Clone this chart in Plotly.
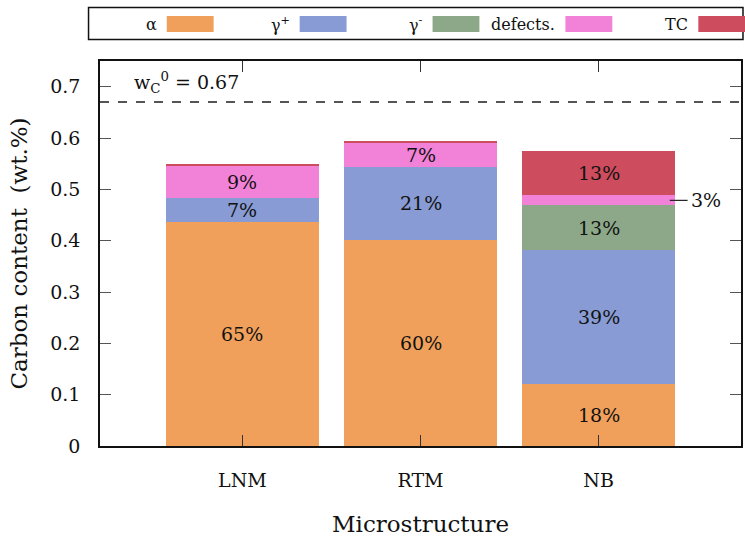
import numpy as np
import plotly.graph_objects as go

# Carbon partitioning per microstructure (wt.% C)
categories = ["LNM", "RTM", "NB"]
phases = ["α", "γ<sup>+</sup>", "γ<sup>-</sup>", "defects.", "TC"]
alpha = [0.437, 0.402, 0.121]
gamma_plus = [0.046, 0.142, 0.260]
gamma_minus = [0.0, 0.0, 0.088]
defects = [0.063, 0.047, 0.019]
tc = [0.002, 0.002, 0.086]
nominal_c = 0.67
colors = ["#F0A05A", "#889BD4", "#8CA888", "#F281D8", "#CD4C5E"]

series = [alpha, gamma_plus, gamma_minus, defects, tc]
FONT = "DejaVu Serif"

fig = go.Figure()
xpos = np.arange(len(categories))
for name, vals, col in zip(phases, series, colors):
    fig.add_trace(go.Bar(x=xpos, y=vals, name=name, marker=dict(color=col, line=dict(width=0)),
                         width=0.855, showlegend=False))

# Percentage labels (share of nominal carbon content)
vals_arr = np.array(series)
cum = np.cumsum(vals_arr, axis=0)
annotations = []
shapes = []
for j in range(len(categories)):
    for i in range(len(series)):
        v = vals_arr[i, j]
        pct = round(v / nominal_c * 100)
        if pct < 1:
            continue
        mid = cum[i, j] - v / 2
        if v < 0.03:
            # small slice: label outside with a leader line
            shapes.append(dict(type="line", xref="x", yref="y", x0=xpos[j] + 0.40, x1=xpos[j] + 0.50,
                               y0=mid, y1=mid, line=dict(color="#222", width=1.2)))
            annotations.append(dict(x=xpos[j] + 0.51, y=mid, xref="x", yref="y", text=f"{pct}%",
                                    showarrow=False, xanchor="left", yanchor="middle",
                                    font=dict(family=FONT, size=19, color="#111")))
        else:
            annotations.append(dict(x=xpos[j], y=mid, xref="x", yref="y", text=f"{pct}%",
                                    showarrow=False, yanchor="middle",
                                    font=dict(family=FONT, size=19, color="#111")))

# Nominal carbon reference line
shapes.append(dict(type="line", xref="paper", yref="y", x0=0, x1=1, y0=nominal_c, y1=nominal_c,
                   line=dict(color="#555", width=2, dash="dash"), layer="above"))
annotations.append(dict(x=0.05, y=nominal_c + 0.008, xref="paper", yref="y", xanchor="left", yanchor="bottom",
                        text="w<sub>C</sub><sup>0</sup> = 0.67", showarrow=False,
                        font=dict(family=FONT, size=19, color="#111")))

# Legend box drawn above the plot frame
PL, PW, PT, PH = 100, 643, 61, 385
def px_x(p):
    return (p - PL) / PW
def px_y(p):
    return (PT + PH - p) / PH

shapes.append(dict(type="rect", xref="paper", yref="paper", x0=px_x(88.5), x1=px_x(745),
                   y0=px_y(39.5), y1=px_y(7.5), line=dict(color="#111", width=1.5), fillcolor="white"))
for k, (name, col) in enumerate(zip(phases, colors)):
    sx0 = 167 + k * 133.3
    shapes.append(dict(type="rect", xref="paper", yref="paper", x0=px_x(sx0), x1=px_x(sx0 + 47),
                       y0=px_y(32), y1=px_y(16), line=dict(width=0), fillcolor=col))
    annotations.append(dict(x=px_x(sx0 - 8), y=px_y(24), xref="paper", yref="paper",
                            xanchor="right", yanchor="middle",
                            text=name, showarrow=False, font=dict(family=FONT, size=16, color="#111")))

fig.update_layout(
    width=745, height=538,
    margin=dict(l=PL, r=745 - PL - PW, t=PT, b=538 - PT - PH),
    paper_bgcolor="white", plot_bgcolor="white",
    barmode="stack", bargap=0,
    font=dict(family=FONT, color="#111"),
    annotations=annotations, shapes=shapes,
    xaxis=dict(tickmode="array", tickvals=xpos, ticktext=categories, range=[-0.8, 2.8],
               ticks="inside", ticklen=11, tickcolor="#333", mirror="ticks",
               showline=True, linecolor="#111", linewidth=1.5, showgrid=False, zeroline=False,
               tickfont=dict(family=FONT, size=19), ticklabelstandoff=16,
               title=dict(text="Microstructure", font=dict(family=FONT, size=23), standoff=26)),
    yaxis=dict(range=[0, 0.75], tickvals=[0, 0.1, 0.2, 0.3, 0.4, 0.5, 0.6, 0.7],
               ticktext=["0", "0.1", "0.2", "0.3", "0.4", "0.5", "0.6", "0.7"],
               ticks="inside", ticklen=11, tickcolor="#555", mirror="ticks",
               showline=True, linecolor="#111", linewidth=1.5, showgrid=False, zeroline=False,
               tickfont=dict(family=FONT, size=19), ticklabelstandoff=14,
               title=dict(text="Carbon content  (wt.%)", font=dict(family=FONT, size=23), standoff=16)),
)

fig.write_html("out.html")
